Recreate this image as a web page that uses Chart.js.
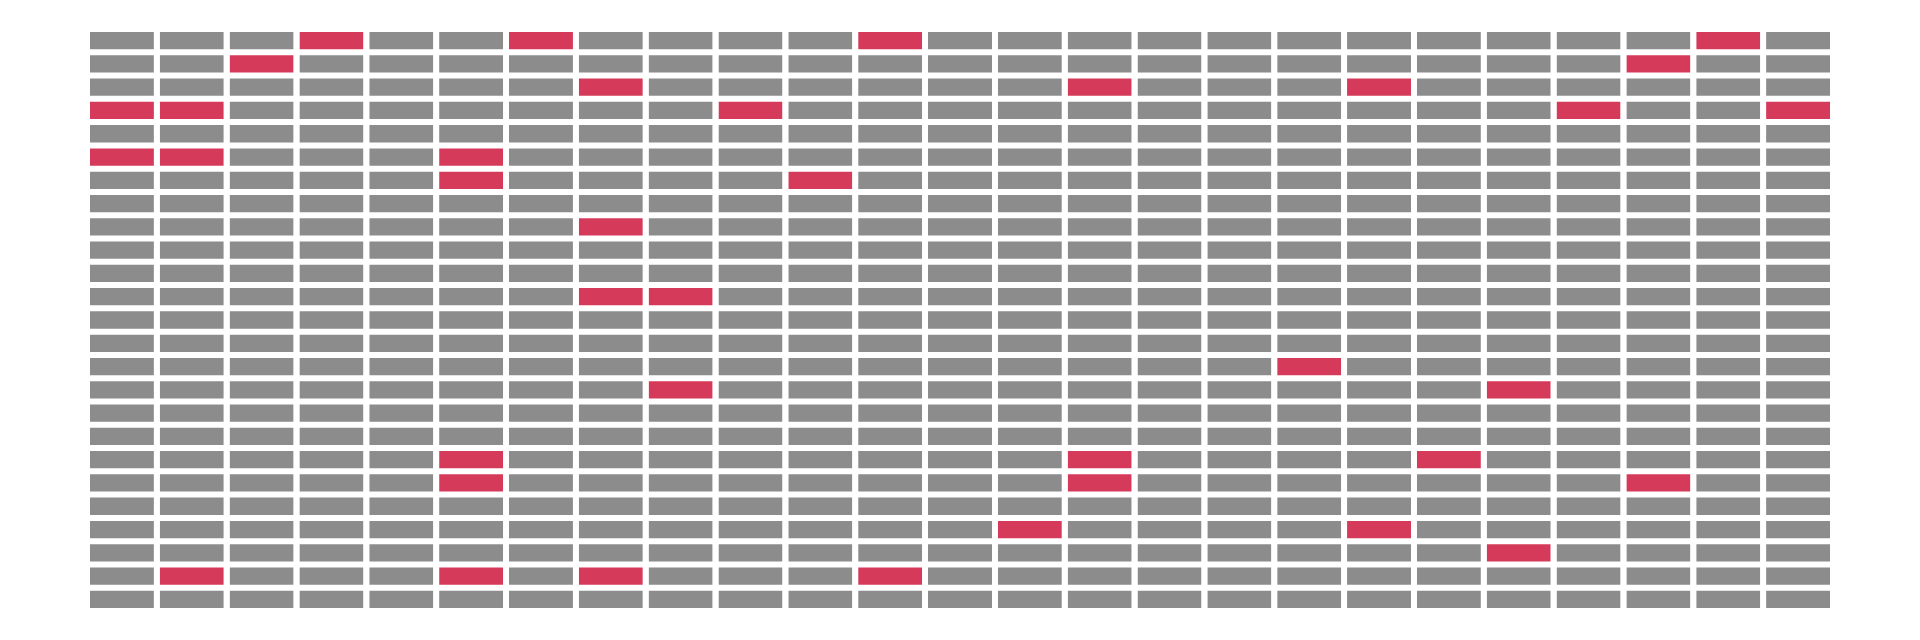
<!DOCTYPE html>
<html>
<head>
<meta charset="utf-8">
<script src="https://cdn.jsdelivr.net/npm/chart.js@4.4.1/dist/chart.umd.min.js"></script>
<style>
  html, body { margin: 0; padding: 0; background: #fff; }
  canvas { display: block; }
</style>
</head>
<body>
<canvas id="grid" width="1920" height="640"></canvas>
<script>
// 25 x 25 grid, rows top to bottom, columns left to right
const columns = ["1", "2", "3", "4", "5", "6", "7", "8", "9", "10", "11", "12", "13",
  "14", "15", "16", "17", "18", "19", "20", "21", "22", "23", "24", "25"];
const rows = ["1", "2", "3", "4", "5", "6", "7", "8", "9", "10", "11", "12", "13",
  "14", "15", "16", "17", "18", "19", "20", "21", "22", "23", "24", "25"];

// column indexes of the highlighted cells, one list per row
const highlighted = [
  [3, 6, 11, 23],
  [2, 22],
  [7, 14, 18],
  [0, 1, 9, 21, 24],
  [],
  [0, 1, 5],
  [5, 10],
  [],
  [7],
  [],
  [],
  [7, 8],
  [],
  [],
  [17],
  [8, 20],
  [],
  [],
  [5, 14, 19],
  [5, 14, 22],
  [],
  [13, 18],
  [20],
  [1, 5, 7, 11],
  [],
];

const GREY = "#8c8c8c";
const RED = "#d63a5a";

const datasets = rows.map((name, r) => ({
  label: "Row " + name,
  data: columns.map(() => [r, r + 1]),
  backgroundColor: columns.map((c, j) => (highlighted[r].includes(j) ? RED : GREY)),
  borderColor: "#ffffff",
  borderWidth: { top: 3, bottom: 3, left: 0, right: 0 },
  borderSkipped: false,
  grouped: false,
  barPercentage: 0.9165,
  categoryPercentage: 1,
}));

new Chart(document.getElementById("grid"), {
  type: "bar",
  data: { labels: columns, datasets: datasets },
  options: {
    responsive: false,
    animation: false,
    layout: { padding: { left: 87, right: 87, top: 29, bottom: 29 } },
    plugins: {
      legend: { display: false },
      tooltip: { enabled: false },
    },
    scales: {
      x: { display: false, offset: true, grid: { display: false } },
      y: { display: false, min: 0, max: 25, reverse: true, grid: { display: false } },
    },
  },
});
</script>
</body>
</html>
